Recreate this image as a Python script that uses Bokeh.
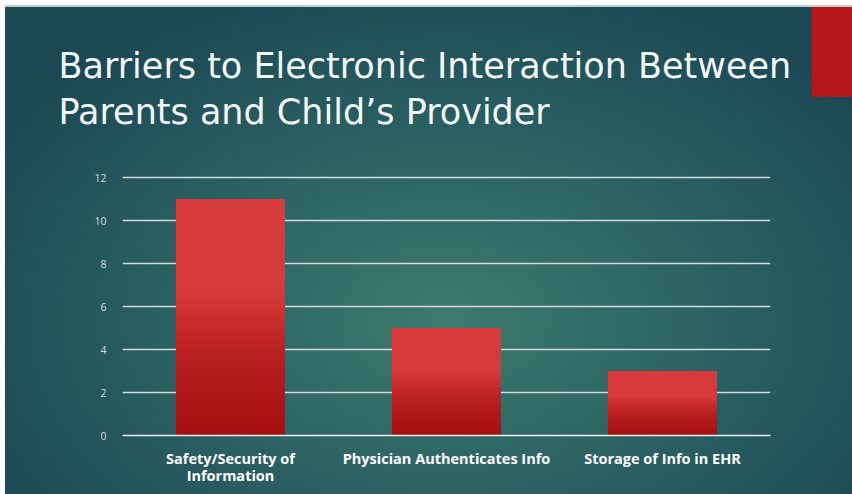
from bokeh.plotting import figure
from bokeh.models import Range1d, FixedTicker, ColumnDataSource, LinearAxis, Title
from bokeh.embed import file_html
from bokeh.resources import INLINE

# ---- data ----
categories = ["Safety/Security of Information", "Physician Authenticates Info", "Storage of Info in EHR"]
label_line1 = ["Safety/Security of", "Physician Authenticates Info", "Storage of Info in EHR"]
label_line2 = ["Information", "", ""]
values = [11, 5, 3]
y_ticks = [0, 2, 4, 6, 8, 10, 12]
title_lines = ["Barriers to Electronic Interaction Between", "Parents and Child\u2019s Provider"]

W, H = 852, 494
FRAME_L, FRAME_R, FRAME_T, FRAME_B = 122, 770, 135, 435
PX_PER_UNIT = 21.5
Y_TOP = 12 + (177 - FRAME_T) / PX_PER_UNIT   # 12-gridline sits at y=177

n = len(categories)
centers = [i + 0.5 for i in range(n)]   # slot centre of each category

p = figure(width=W, height=H,
           x_range=Range1d(0, n),
           y_range=Range1d(0, Y_TOP),
           output_backend="svg", toolbar_location=None,
           min_border_left=FRAME_L, min_border_right=W - FRAME_R,
           min_border_top=FRAME_T, min_border_bottom=H - FRAME_B)
p.title.visible = False

p.background_fill_color = None
p.border_fill_color = None
p.outline_line_color = None

p.styles = {
    "background": (
        "linear-gradient(#b3161b,#b3161b) 812px 7px / 40px 90px no-repeat, "
        "linear-gradient(#c4cdce,#c4cdce) 5px 5px / 847px 2px no-repeat, "
        "radial-gradient(ellipse 62% 72% at 52% 64%, #3e7a6e 0%, #2f6765 40%, #1c4855 100%) 5px 7px / 847px 487px no-repeat, "
        "#ffffff"
    )
}

src = ColumnDataSource(dict(x=centers, val=values, cat=categories))
BAR_W = 0.505
p.vbar(x="x", top="val", width=BAR_W, source=src, fill_color="#d73a3a", line_color=None)
N = 32
for k in range(1, N + 1):
    frac = 0.6 * k / N
    p.vbar(x=centers, top=[v * frac for v in values], width=BAR_W,
           fill_color="#8a0c0c", fill_alpha=0.027, line_color=None)

# grid
p.xgrid.grid_line_color = None
p.ygrid.ticker = FixedTicker(ticks=y_ticks)
p.ygrid.grid_line_color = "#cfdcdb"
p.ygrid.grid_line_width = 1.3

# y axis
p.yaxis.ticker = FixedTicker(ticks=y_ticks)
p.yaxis.axis_line_color = None
p.yaxis.major_tick_line_color = None
p.yaxis.minor_tick_line_color = None
p.yaxis.major_label_standoff = 10
p.yaxis.major_label_text_color = "#d4dcdc"
p.yaxis.major_label_text_font = "Open Sans"
p.yaxis.major_label_text_font_size = "10.5px"

# x axes: category labels wrapped over two stacked axes
def style_label_axis(ax, texts, standoff, line):
    ax.ticker = FixedTicker(ticks=centers)
    ax.major_label_overrides = {c: t for c, t in zip(centers, texts)}
    ax.major_tick_line_color = None
    ax.minor_tick_line_color = None
    ax.major_label_standoff = standoff
    ax.major_label_text_color = "#ffffff"
    ax.major_label_text_font = "Open Sans"
    ax.major_label_text_font_style = "bold"
    ax.major_label_text_font_size = "14.5px"
    if line:
        ax.axis_line_color = "#e8efef"
        ax.axis_line_width = 1.5
    else:
        ax.axis_line_color = None

style_label_axis(p.xaxis[0], label_line1, 7, True)
ax2 = LinearAxis()
style_label_axis(ax2, label_line2, -11, False)
p.add_layout(ax2, "below")

# title, two lines (added nearest-to-frame first)
p.add_layout(Title(text=title_lines[1], align="left", offset=58 - FRAME_L, standoff=7,
                   text_font="DejaVu Sans", text_font_size="35px", text_font_style="normal",
                   text_color="#f2f6f6"), "above")
p.add_layout(Title(text=title_lines[0], align="left", offset=58 - FRAME_L, standoff=1,
                   text_font="DejaVu Sans", text_font_size="35px", text_font_style="normal",
                   text_color="#f2f6f6"), "above")

open("out.html", "w").write(file_html(p, INLINE))
